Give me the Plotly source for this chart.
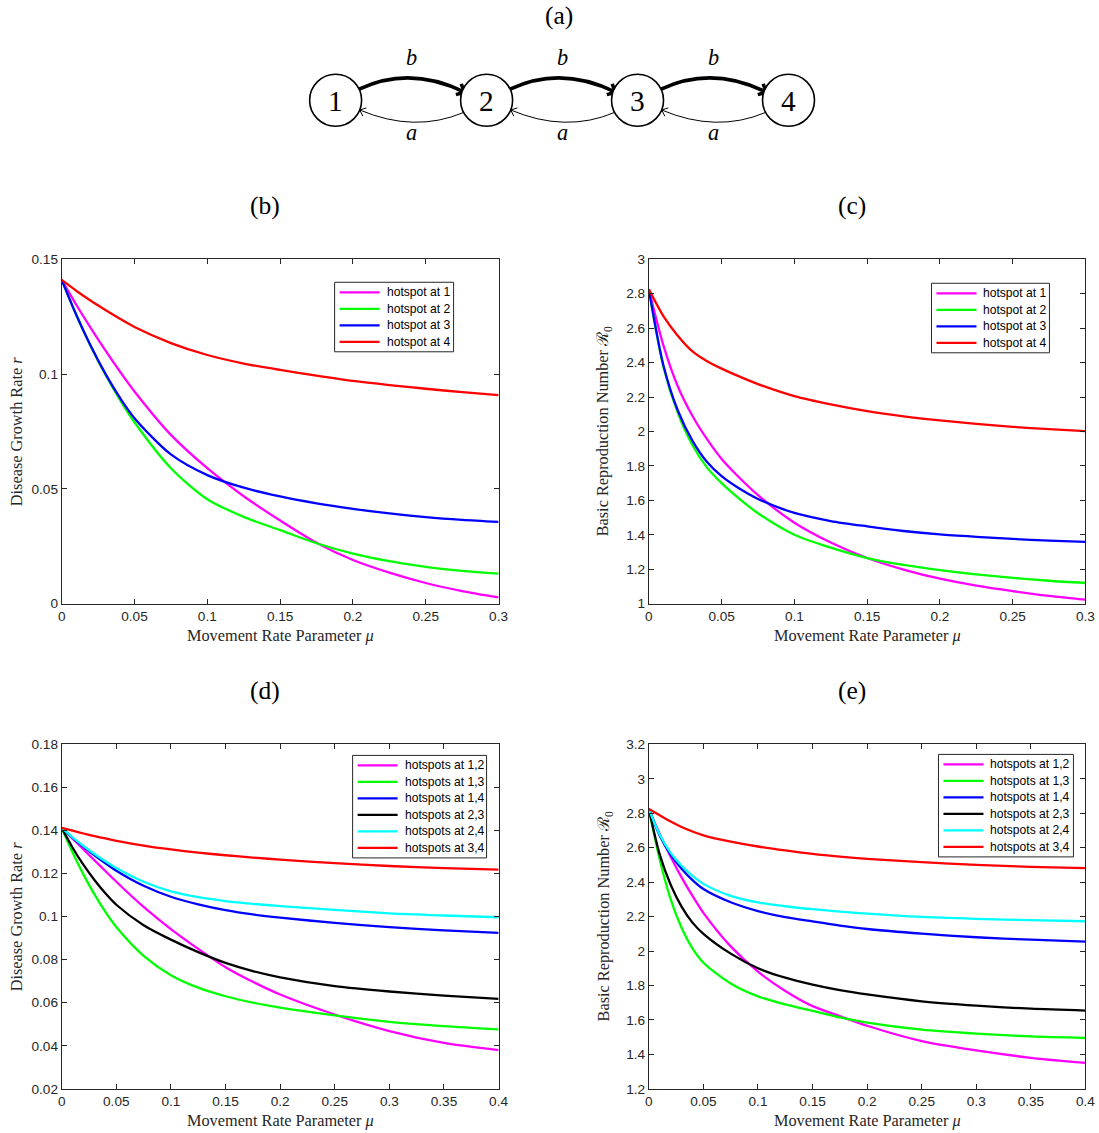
import math
import plotly.graph_objects as go

W, H = 1099, 1133

# ---------------- data ----------------
# panel (b): disease growth rate r, single hotspot
mu_b = [0, 0.01, 0.02, 0.03, 0.04, 0.05, 0.075, 0.1, 0.125, 0.15, 0.175, 0.2, 0.225, 0.25, 0.275, 0.3]
r_h1 = [0.1410, 0.1302, 0.1200, 0.1103, 0.1011, 0.0924, 0.0735, 0.0590, 0.0468, 0.0362, 0.0265, 0.0190, 0.0135, 0.0090, 0.0055, 0.0027]
r_h2 = [0.1410, 0.1258, 0.1120, 0.0997, 0.0888, 0.0790, 0.0590, 0.0455, 0.0378, 0.0320, 0.0263, 0.0218, 0.0185, 0.0160, 0.0143, 0.0131]
r_h3 = [0.1410, 0.1258, 0.1122, 0.1002, 0.0897, 0.0808, 0.0650, 0.0560, 0.0505, 0.0467, 0.0437, 0.0413, 0.0393, 0.0377, 0.0365, 0.0356]
r_h4 = [0.1410, 0.1363, 0.1319, 0.1279, 0.1241, 0.1205, 0.1135, 0.1083, 0.1046, 0.1018, 0.0993, 0.0970, 0.0952, 0.0936, 0.0921, 0.0908]

# panel (c): basic reproduction number R0, single hotspot
mu_c = [0, 0.01, 0.02, 0.03, 0.04, 0.05, 0.06, 0.075, 0.1, 0.125, 0.15, 0.175, 0.2, 0.225, 0.25, 0.275, 0.3]
R_h1 = [2.825, 2.500, 2.260, 2.090, 1.955, 1.840, 1.750, 1.630, 1.470, 1.355, 1.265, 1.198, 1.145, 1.105, 1.073, 1.045, 1.023]
R_h2 = [2.825, 2.375, 2.105, 1.920, 1.790, 1.700, 1.625, 1.525, 1.400, 1.325, 1.265, 1.225, 1.195, 1.170, 1.150, 1.133, 1.120]
R_h3 = [2.825, 2.385, 2.120, 1.945, 1.822, 1.740, 1.680, 1.608, 1.527, 1.480, 1.449, 1.422, 1.402, 1.388, 1.376, 1.366, 1.359]
R_h4 = [2.825, 2.670, 2.555, 2.465, 2.408, 2.365, 2.327, 2.275, 2.205, 2.157, 2.118, 2.088, 2.064, 2.044, 2.027, 2.013, 2.002]

# panel (d): disease growth rate r, two hotspots
mu_d = [0, 0.01, 0.02, 0.03, 0.04, 0.05, 0.075, 0.1, 0.125, 0.15, 0.175, 0.2, 0.25, 0.3, 0.35, 0.4]
r_h12 = [0.1412, 0.1362, 0.1312, 0.1262, 0.1212, 0.1162, 0.1045, 0.0942, 0.0850, 0.0765, 0.0697, 0.0638, 0.0545, 0.0468, 0.0413, 0.0380]
r_h13 = [0.1412, 0.1298, 0.1195, 0.1103, 0.1022, 0.0952, 0.0818, 0.0728, 0.0670, 0.0630, 0.0600, 0.0577, 0.0541, 0.0511, 0.0491, 0.0476]
r_h14 = [0.1412, 0.1366, 0.1324, 0.1285, 0.1248, 0.1213, 0.1143, 0.1092, 0.1057, 0.1030, 0.1010, 0.0995, 0.0971, 0.0951, 0.0936, 0.0924]
r_h23 = [0.1412, 0.1320, 0.1240, 0.1170, 0.1108, 0.1055, 0.0960, 0.0893, 0.0835, 0.0785, 0.0747, 0.0718, 0.0677, 0.0652, 0.0633, 0.0618]
r_h24 = [0.1412, 0.1368, 0.1328, 0.1291, 0.1257, 0.1226, 0.1162, 0.1117, 0.1090, 0.1072, 0.1059, 0.1049, 0.1031, 0.1015, 0.1005, 0.0997]
r_h34 = [0.1412, 0.1399, 0.1386, 0.1374, 0.1363, 0.1352, 0.1330, 0.1312, 0.1297, 0.1285, 0.1274, 0.1265, 0.1248, 0.1235, 0.1225, 0.1218]

# panel (e): basic reproduction number R0, two hotspots
mu_e = [0, 0.01, 0.02, 0.03, 0.04, 0.05, 0.075, 0.1, 0.125, 0.15, 0.175, 0.2, 0.25, 0.3, 0.35, 0.4]
R_h12 = [2.825, 2.680, 2.548, 2.428, 2.320, 2.222, 2.027, 1.880, 1.768, 1.680, 1.622, 1.566, 1.477, 1.423, 1.380, 1.350]
R_h13 = [2.825, 2.530, 2.300, 2.135, 2.015, 1.932, 1.812, 1.737, 1.690, 1.652, 1.614, 1.584, 1.543, 1.520, 1.504, 1.495]
R_h14 = [2.825, 2.670, 2.560, 2.478, 2.412, 2.360, 2.283, 2.232, 2.197, 2.172, 2.148, 2.128, 2.101, 2.080, 2.066, 2.055]
R_h23 = [2.825, 2.560, 2.385, 2.258, 2.165, 2.100, 1.985, 1.900, 1.845, 1.805, 1.773, 1.748, 1.708, 1.683, 1.665, 1.654]
R_h24 = [2.825, 2.675, 2.570, 2.495, 2.436, 2.390, 2.320, 2.282, 2.260, 2.243, 2.229, 2.217, 2.198, 2.187, 2.179, 2.173]
R_h34 = [2.825, 2.788, 2.752, 2.720, 2.694, 2.672, 2.635, 2.607, 2.584, 2.564, 2.548, 2.535, 2.516, 2.500, 2.489, 2.481]

single_names = ["hotspot at 1", "hotspot at 2", "hotspot at 3", "hotspot at 4"]
pair_names = ["hotspots at 1,2", "hotspots at 1,3", "hotspots at 1,4",
              "hotspots at 2,3", "hotspots at 2,4", "hotspots at 3,4"]
single_colors = ["#FF00FF", "#00FF00", "#0000FF", "#FF0000"]
pair_colors = ["#FF00FF", "#00FF00", "#0000FF", "#000000", "#00FFFF", "#FF0000"]

nodes = ["1", "2", "3", "4"]
panel_tags = ["(a)", "(b)", "(c)", "(d)", "(e)"]

SERIF = "Liberation Serif"
SANS = "Liberation Sans"
AXC = "#262626"

# ---------------- layout geometry ----------------
# target positions are given in picture pixels; the photographed page maps
# page pixel p to picture pixel A + S*p, so convert targets back to page pixels
AX, SX = 4.3, 0.9875
AY, SY = 7.8, 0.9865


def px2fx(d):
    return ((d - AX) / SX) / W


def px2fy(d):
    return 1 - ((d - AY) / SY) / H


col_x = [(62, 499), (649.3, 1086)]
row_y = [(260, 604.3), (745, 1089.3)]

panels = [
    # (row, col, mu, series, names, colors, xrange, yrange, ytick, ylabel, legend box (left, top, width))
    (0, 0, mu_b, [r_h1, r_h2, r_h3, r_h4], single_names, single_colors, [0, 0.3], [0, 0.15], 0.05,
     "Disease Growth Rate <i>r</i>", (335, 283, 119)),
    (0, 1, mu_c, [R_h1, R_h2, R_h3, R_h4], single_names, single_colors, [0, 0.3], [1, 3], 0.2,
     "Basic Reproduction Number ℛ<sub>0</sub>", (932, 284, 118)),
    (1, 0, mu_d, [r_h12, r_h13, r_h14, r_h23, r_h24, r_h34], pair_names, pair_colors, [0, 0.4], [0.02, 0.18], 0.02,
     "Disease Growth Rate <i>r</i>", (353, 756, 134)),
    (1, 1, mu_e, [R_h12, R_h13, R_h14, R_h23, R_h24, R_h34], pair_names, pair_colors, [0, 0.4], [1.2, 3.2], 0.2,
     "Basic Reproduction Number ℛ<sub>0</sub>", (939, 755, 135)),
]

fig = go.Figure()
annotations = []
shapes = []
layout_axes = {}

# full-figure overlay axis in picture-pixel units (diagram, legends, labels)
layout_axes["xaxis5"] = dict(domain=[0, 1], range=[AX, AX + SX * W], visible=False, fixedrange=True, anchor="y5")
layout_axes["yaxis5"] = dict(domain=[0, 1], range=[AY + SY * H, AY], visible=False, fixedrange=True, anchor="x5")

ROW = 16.5
for i, (row, col, mu, series, names, colors, xr, yr, ytick, ylab, lbox) in enumerate(panels):
    k = i + 1
    xa = "x" if k == 1 else f"x{k}"
    ya = "y" if k == 1 else f"y{k}"
    for ys, nm, c in zip(series, names, colors):
        fig.add_trace(go.Scatter(x=mu, y=ys, name=nm, mode="lines",
                                 line=dict(color=c, width=2.3, shape="spline", smoothing=0.8),
                                 xaxis=xa, yaxis=ya, showlegend=False))
    x0, x1 = col_x[col]
    y0, y1 = row_y[row]
    common = dict(showline=True, linecolor=AXC, linewidth=1, mirror="allticks",
                  ticks="inside", ticklen=5, tickwidth=1, tickcolor=AXC,
                  showgrid=False, zeroline=False,
                  tickfont=dict(family=SANS, size=13.6, color=AXC))
    layout_axes["xaxis" if k == 1 else f"xaxis{k}"] = dict(
        domain=[px2fx(x0), px2fx(x1)], range=xr, dtick=0.05, tick0=0,
        anchor=ya, **common)
    layout_axes["yaxis" if k == 1 else f"yaxis{k}"] = dict(
        domain=[px2fy(y1), px2fy(y0)], range=yr, dtick=ytick, tick0=yr[0],
        anchor=xa, **common)

    # legend box
    lx, ly, lw = lbox
    lh = 20 + ROW * (len(names) - 1)
    shapes.append(dict(type="rect", xref="x5", yref="y5", x0=lx, x1=lx + lw, y0=ly, y1=ly + lh,
                       line=dict(color=AXC, width=1), fillcolor="white", layer="above"))
    for j, (nm, c) in enumerate(zip(names, colors)):
        yy = ly + 10 + ROW * j
        shapes.append(dict(type="line", xref="x5", yref="y5", x0=lx + 5, x1=lx + 45, y0=yy, y1=yy,
                           line=dict(color=c, width=2.3), layer="above"))
        annotations.append(dict(x=lx + 50, y=yy, xref="x5", yref="y5", text=nm, showarrow=False,
                                xanchor="left", yanchor="middle",
                                font=dict(family=SANS, size=12.1, color="black")))

    # axis titles
    annotations.append(dict(x=(x0 + x1) / 2, y=y1 + 32, xref="x5", yref="y5",
                            text="Movement Rate Parameter <i>μ</i>", showarrow=False,
                            xanchor="center", yanchor="middle",
                            font=dict(family=SERIF, size=16.3, color=AXC)))
    annotations.append(dict(x=x0 - 45, y=(y0 + y1) / 2, xref="x5", yref="y5",
                            text=ylab, showarrow=False, textangle=-90,
                            xanchor="center", yanchor="middle",
                            font=dict(family=SERIF, size=16.3, color=AXC)))
    # panel tag
    annotations.append(dict(x=(x0 + x1) / 2 - 15, y=y0 - 54, xref="x5", yref="y5",
                            text=panel_tags[k], showarrow=False,
                            xanchor="center", yanchor="middle",
                            font=dict(family=SERIF, size=25.5, color="black")))

# invisible anchor trace so the overlay axes exist
fig.add_trace(go.Scatter(x=[AX + 1], y=[AY + 1], xaxis="x5", yaxis="y5", mode="markers",
                         marker=dict(opacity=0), showlegend=False, hoverinfo="skip"))

# ---------------- diagram (a) ----------------
cx0, step, cy, rad = 336, 151, 101, 26
centers = [(cx0 + step * j, cy) for j in range(len(nodes))]


def arrow_head(ex, ey, qx, qy, L, ang):
    dx, dy = ex - qx, ey - qy
    n = math.hypot(dx, dy)
    dx, dy = dx / n, dy / n
    pts = []
    for s in (1, -1):
        a = math.radians(ang) * s
        rx = dx * math.cos(a) - dy * math.sin(a)
        ry = dx * math.sin(a) + dy * math.cos(a)
        pts.append((ex - L * rx, ey - L * ry))
    return f"M {pts[0][0]:.2f},{pts[0][1]:.2f} L {ex:.2f},{ey:.2f} L {pts[1][0]:.2f},{pts[1][1]:.2f}"


for j in range(len(nodes) - 1):
    (ax_, ay_), (bx_, by_) = centers[j], centers[j + 1]
    # forward (b) arrow, thick
    sx, sy = ax_ + rad * math.cos(math.radians(25)), ay_ - rad * math.sin(math.radians(25))
    ex, ey = bx_ - rad * math.cos(math.radians(32)), by_ - rad * math.sin(math.radians(18))
    qx, qy = (sx + ex) / 2 - 2, 66
    shapes.append(dict(type="path", xref="x5", yref="y5",
                       path=f"M {sx:.2f},{sy:.2f} Q {qx:.2f},{qy:.2f} {ex:.2f},{ey:.2f}",
                       line=dict(color="black", width=3.6)))
    shapes.append(dict(type="path", xref="x5", yref="y5",
                       path=arrow_head(ex, ey, qx, qy, 9, 42),
                       line=dict(color="black", width=3.6)))
    # backward (a) arrow, thin
    sx, sy = bx_ - rad * math.cos(math.radians(28)), by_ + rad * math.sin(math.radians(28))
    ex, ey = ax_ + rad * math.cos(math.radians(22)), ay_ + rad * math.sin(math.radians(22))
    qx, qy = (sx + ex) / 2 + 3, 134
    shapes.append(dict(type="path", xref="x5", yref="y5",
                       path=f"M {sx:.2f},{sy:.2f} Q {qx:.2f},{qy:.2f} {ex:.2f},{ey:.2f}",
                       line=dict(color="black", width=1)))
    shapes.append(dict(type="path", xref="x5", yref="y5",
                       path=arrow_head(ex, ey, qx, qy, 7, 40),
                       line=dict(color="black", width=1)))
    mx = (ax_ + bx_) / 2
    annotations.append(dict(x=mx, y=58, xref="x5", yref="y5", text="<i>b</i>", showarrow=False,
                            xanchor="center", yanchor="middle",
                            font=dict(family=SERIF, size=22.3, color="black")))
    annotations.append(dict(x=mx, y=133, xref="x5", yref="y5", text="<i>a</i>", showarrow=False,
                            xanchor="center", yanchor="middle",
                            font=dict(family=SERIF, size=22.3, color="black")))

for (x_, y_), lab in zip(centers, nodes):
    shapes.append(dict(type="circle", xref="x5", yref="y5",
                       x0=x_ - rad, x1=x_ + rad, y0=y_ - rad, y1=y_ + rad,
                       line=dict(color="black", width=1.6), fillcolor="white", layer="above"))
    annotations.append(dict(x=x_, y=y_ + 1, xref="x5", yref="y5", text=lab, showarrow=False,
                            font=dict(family=SERIF, size=29.4, color="black"),
                            xanchor="center", yanchor="middle"))

annotations.append(dict(x=559, y=16, xref="x5", yref="y5", text=panel_tags[0], showarrow=False,
                        font=dict(family=SERIF, size=25.5, color="black"),
                        xanchor="center", yanchor="middle"))

fig.update_layout(width=W, height=H, autosize=False,
                  margin=dict(l=0, r=0, t=0, b=0),
                  paper_bgcolor="white", plot_bgcolor="rgba(0,0,0,0)", showlegend=False,
                  annotations=annotations, shapes=shapes, **layout_axes)

fig.write_html("out.html", config={"displayModeBar": False},
               post_script="document.body.style.margin='0';document.body.style.overflow='hidden';")
